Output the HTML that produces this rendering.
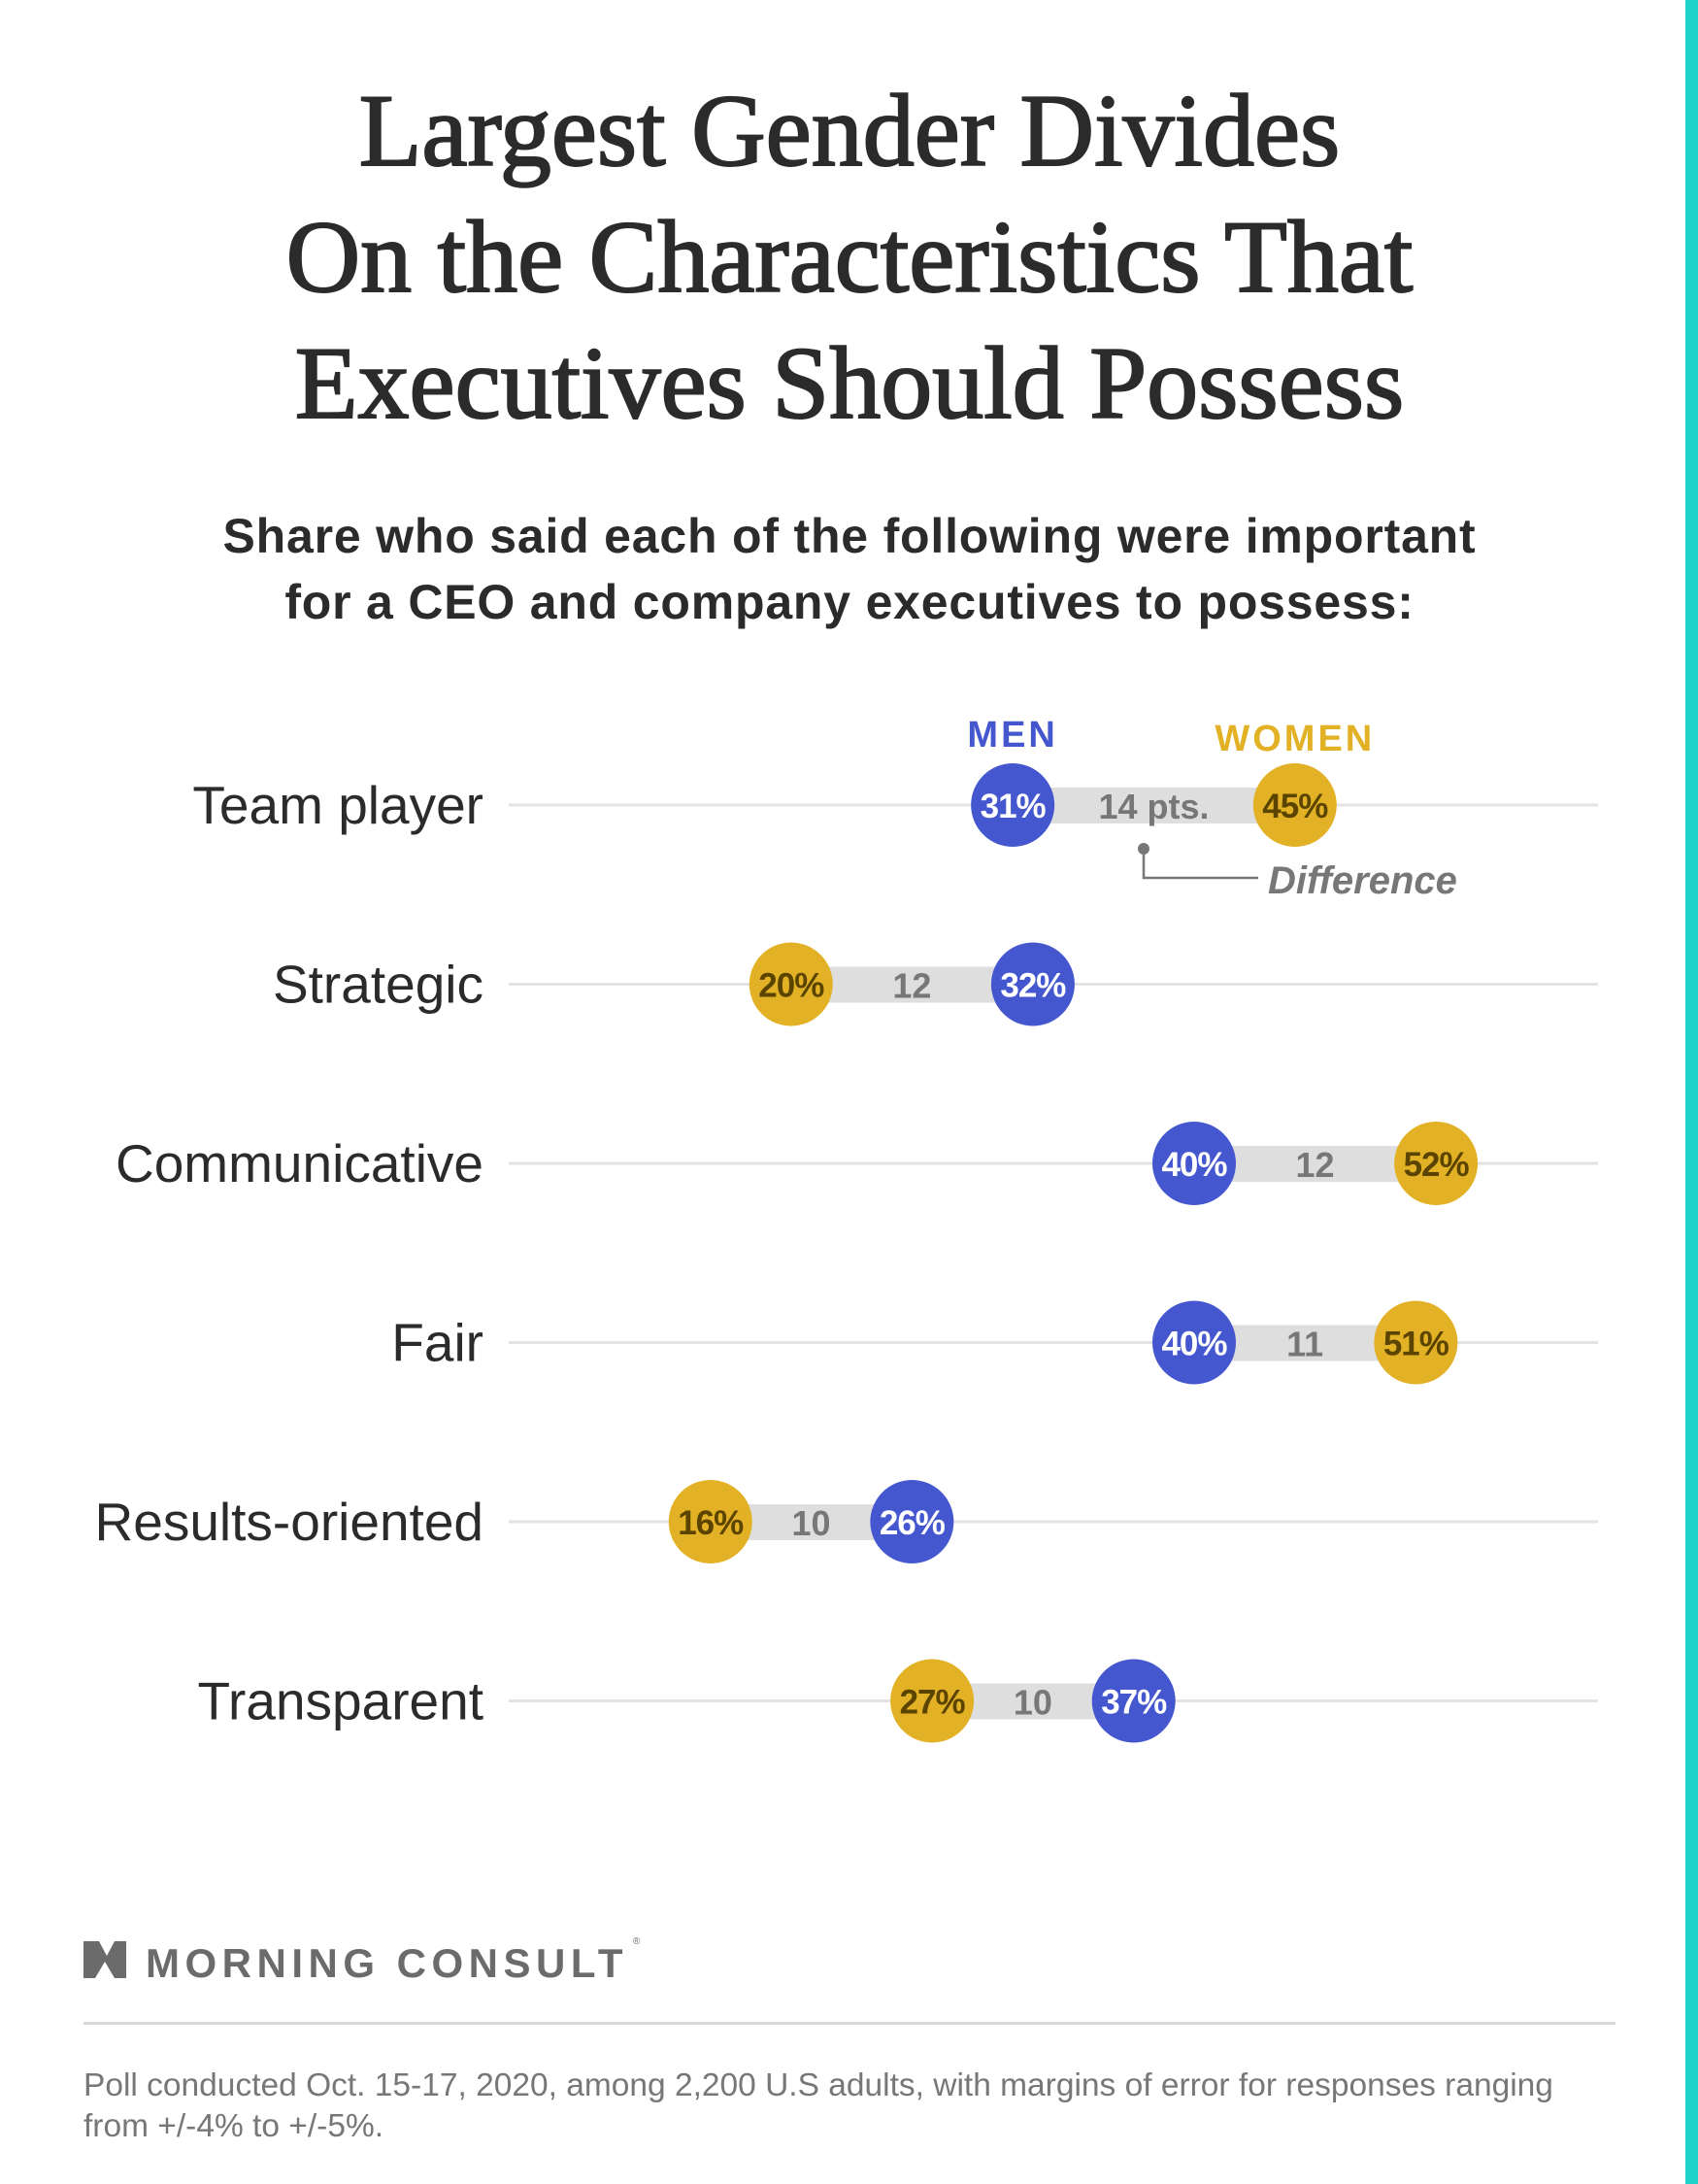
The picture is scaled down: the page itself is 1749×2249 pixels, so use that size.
<!DOCTYPE html>
<html><head><meta charset="utf-8"><style>
html,body{margin:0;padding:0;background:#fff}
svg{display:block}
</style></head><body>
<svg width="1749" height="2249" viewBox="0 0 1749 2249" xmlns="http://www.w3.org/2000/svg">
<rect x="0" y="0" width="1749" height="2249" fill="#fff"/>
<rect x="1736" y="0" width="13" height="2249" fill="#1fd3cc"/>
<g font-family="'Liberation Serif',serif" font-size="106" fill="#2b2b2b" stroke="#2b2b2b" stroke-width="2" text-anchor="middle">
<text x="875" y="170">Largest Gender Divides</text>
<text x="875" y="300">On the Characteristics That</text>
<text x="875" y="430">Executives Should Possess</text>
</g>
<g font-family="'Liberation Sans',sans-serif" font-weight="bold" font-size="50" letter-spacing="0.8" fill="#2b2b2b" text-anchor="middle">
<text x="875" y="569">Share who said each of the following were important</text>
<text x="875" y="637">for a CEO and company executives to possess:</text>
</g>
<g id="plot"></g>
<g>
<path d="M86 1999 L102 1999 L110 2014 L118 1999 L130 1999 L130 2037 L118 2037 L108 2020 L98 2037 L86 2037 Z" fill="#6b6b6b"/>
<text x="150" y="2036" font-family="'Liberation Sans',sans-serif" font-weight="bold" font-size="42" letter-spacing="5.5" fill="#6b6b6b">MORNING CONSULT</text>
<text x="652" y="2002" font-family="'Liberation Sans',sans-serif" font-size="10" fill="#6b6b6b">®</text>
</g>
<rect x="86" y="2082" width="1578" height="3" fill="#d9d9d9"/>
<g font-family="'Liberation Sans',sans-serif" font-size="33.5" fill="#777">
<text x="86" y="2158">Poll conducted Oct. 15-17, 2020, among 2,200 U.S adults, with margins of error for responses ranging</text>
<text x="86" y="2200">from +/-4% to +/-5%.</text>
</g>
</svg>
<script>
const categories = ["Team player","Strategic","Communicative","Fair","Results-oriented","Transparent"];
const menValues = [31,32,40,40,26,37];
const womenValues = [45,20,52,51,16,27];
const diffLabels = ["14 pts.","12","12","11","10","10"];

const NS = "http://www.w3.org/2000/svg";
const plot = document.getElementById('plot');
function xScale(v){ return 399.6 + v*20.76; }
function yScale(i){ return 829 + i*184.5; }
function mk(tag, attrs, parent){
  const e = document.createElementNS(NS, tag);
  for (const k in attrs) e.setAttribute(k, attrs[k]);
  (parent||plot).appendChild(e);
  return e;
}
const R = 43;
categories.forEach((cat, i) => {
  const y = yScale(i);
  const g = mk('g', {});
  
  
  const grid = mk('rect', {x:524, y:y-1.5, width:1122, height:3, fill:'#e3e3e3'}, g);
  
  
  const lab = mk('text', {x:498, y:y+19, 'text-anchor':'end', 'font-family':"'Liberation Sans',sans-serif", 'font-size':55, fill:'#2b2b2b'}, g);
  lab.textContent = cat;
  
  
  const xm = xScale(menValues[i]), xw = xScale(womenValues[i]);
  const lo = Math.min(xm, xw), hi = Math.max(xm, xw);
  const bar = mk('rect', {x:lo, y:y-18, width:hi-lo, height:37, fill:'#dedede'}, g);
  
  
  const dt = mk('text', {x:(lo+hi)/2, y:y+14, 'text-anchor':'middle', 'font-family':"'Liberation Sans',sans-serif", 'font-weight':'bold', 'font-size':36, fill:'#777'}, g);
  dt.textContent = diffLabels[i];
  
  
  [[xm, menValues[i], '#4557cf', '#fff', 'men-dot'], [xw, womenValues[i], '#e2b125', '#5a4400', 'women-dot']].forEach(d => {
    const c = mk('circle', {cx:d[0], cy:y, r:R, fill:d[2]}, g);
    
    
    const t = mk('text', {x:d[0], y:y+13, 'text-anchor':'middle', 'font-family':"'Liberation Sans',sans-serif", 'font-weight':'bold', 'font-size':35, fill:d[3], 'letter-spacing':-1}, g);
    t.textContent = d[1] + '%';
    
    
  });
});
// legend
const men = mk('text', {x:xScale(menValues[0]), y:769, 'text-anchor':'middle', 'font-family':"'Liberation Sans',sans-serif", 'font-weight':'bold', 'font-size':38, 'letter-spacing':3, fill:'#4557cf'});
men.textContent = 'MEN';


const women = mk('text', {x:xScale(womenValues[0]), y:773, 'text-anchor':'middle', 'font-family':"'Liberation Sans',sans-serif", 'font-weight':'bold', 'font-size':38, 'letter-spacing':3, fill:'#e2b125'});
women.textContent = 'WOMEN';


// difference annotation
const dot = mk('circle', {cx:1178, cy:874, r:6, fill:'#777'});


const conn = mk('path', {d:'M1178 874 L1178 904 L1296 904', fill:'none', stroke:'#777', 'stroke-width':2.5});


const dl = mk('text', {x:1306, y:920, 'font-family':"'Liberation Sans',sans-serif", 'font-weight':'bold', 'font-style':'italic', 'font-size':40, fill:'#777'});
dl.textContent = 'Difference';


</script>
</body></html>
